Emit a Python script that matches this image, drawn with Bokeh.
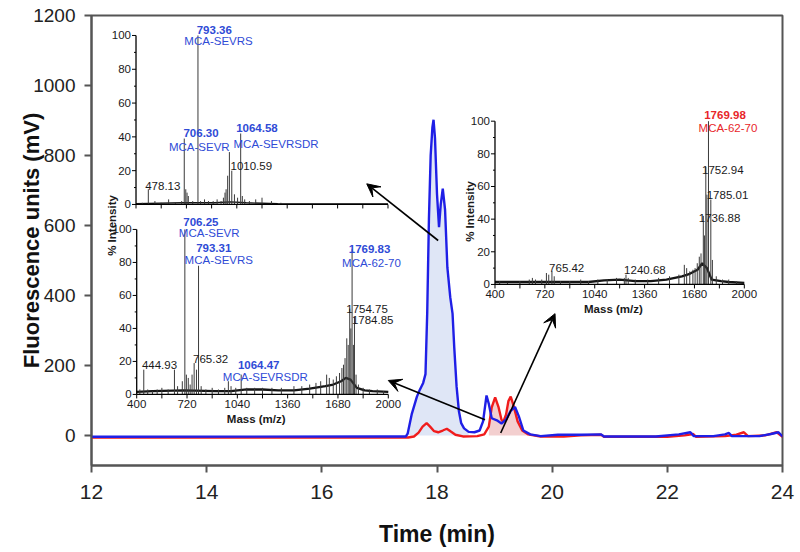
import numpy as np
from bokeh.plotting import figure
from bokeh.models import Range1d, Arrow, VeeHead, FixedTicker
from bokeh.core.properties import value
from bokeh.embed import file_html
from bokeh.resources import INLINE

FONT = "Liberation Sans"

# ---------------- chromatogram data ----------------
blue_t = [12.0, 17.0, 17.46, 17.49, 17.56, 17.65, 17.70, 17.76, 17.80, 17.83, 17.86, 17.89, 17.92, 17.94,
          17.965, 18.0, 18.035, 18.065, 18.10, 18.14, 18.18, 18.23, 18.27, 18.30, 18.34, 18.38, 18.42, 18.47,
          18.55, 18.65, 18.74, 18.80, 18.86, 18.90, 18.95, 19.04, 19.12, 19.2, 19.28, 19.355, 19.42, 19.50,
          19.62, 19.8, 20.1, 20.5, 20.85, 20.9, 21.8, 22.2, 22.4, 22.46, 22.8, 23.0, 23.07, 23.12, 23.6, 23.8,
          23.93, 24.0]
blue_mv = [-4, -3, -3, 5, 60, 110, 130, 150, 175, 350, 620, 800, 880, 902,
           850, 690, 595, 660, 705, 645, 480, 395, 348, 250, 140, 70, 35, 20,
           10, 9, 14, 40, 114, 90, 49, 43, 34, 45, 70, 81, 55, 14,
           3, -2, 2, 2, 3, -3, -3, 3, 9, -2, -2, 3, 7, -2, -2, 4,
           9, -3]
red_t = [12.0, 17.5, 17.6, 17.68, 17.75, 17.82, 17.88, 17.95, 18.02, 18.1, 18.17, 18.24, 18.32, 18.45, 18.7,
         18.82, 18.9, 18.95, 19.01, 19.07, 19.12, 19.15, 19.2, 19.24, 19.28, 19.33, 19.4, 19.48, 19.58, 19.8,
         20.2, 20.5, 20.85, 20.9, 22.0, 22.3, 22.45, 22.5, 23.0, 23.2, 23.33, 23.4, 23.7, 23.9, 24.0]
red_mv = [-6, -6, -3, 8, 25, 35, 25, 12, 9, 14, 19, 11, 2, -3, -2,
          3, 25, 80, 109, 80, 45, 38, 60, 98, 111, 85, 40, 14, 3, -3,
          -3, 0, 2, -4, -4, 0, 4, -4, -2, 2, 9, -2, 0, 9, -4]
BLUE_FILL = (17.46, 18.55)
RED_FILL = (18.85, 19.58)

x_ticks = [12, 14, 16, 18, 20, 22, 24]
y_ticks = [0, 200, 400, 600, 800, 1000, 1200]

# ---------------- mass spectra data ----------------
ms1_mz = [440, 478.13, 520, 560, 607, 650, 690, 706.30, 716, 724, 732, 760, 793.36, 810, 835, 860, 890, 915,
          940, 955, 965, 972, 982, 993, 1008, 1025, 1045, 1064.58, 1075, 1090, 1120, 1160, 1200, 1260, 1320]
ms1_int = [1, 9, 2, 1, 3, 1, 2, 39, 9, 7, 5, 2, 100, 2, 3, 2, 2, 3,
           2, 4, 7, 9, 17, 31, 20, 6, 4, 42, 5, 3, 2, 3, 4, 2, 1]
ms1_base_mz = [400, 700, 900, 1000, 1100, 1300, 1500, 2000]
ms1_base_int = [0.5, 1, 1, 1.5, 1, 0.5, 0.3, 0.3]

ms2_mz = [420, 444.93, 470, 500, 530, 560, 600, 640, 660, 690, 706.25, 716, 728, 740, 752, 765.32, 780, 793.31,
          810, 840, 880, 920, 960, 983, 1000, 1030, 1064.47, 1100, 1150, 1200, 1260, 1320, 1400, 1450, 1500,
          1540, 1570, 1608, 1625, 1650, 1670, 1690, 1705, 1715, 1725, 1736, 1745, 1754.75, 1762, 1769.83,
          1778, 1784.85, 1795, 1810, 1840, 1880, 1930, 1970]
ms2_int = [3, 15, 3, 2, 3, 4, 3, 15, 5, 8, 100, 12, 10, 6, 12, 19, 15, 78,
           5, 3, 4, 3, 4, 8, 5, 4, 12, 4, 4, 4, 4, 4, 5, 5, 6,
           7, 8, 12, 10, 9, 11, 13, 16, 18, 22, 34, 30, 52, 40, 88,
           30, 47, 12, 6, 4, 3, 3, 2]
ms2_base_mz = [400, 500, 700, 900, 1000, 1100, 1200, 1300, 1400, 1500, 1600, 1650, 1700, 1730, 1760, 1800,
               1850, 1900, 2000]
ms2_base_int = [1.5, 2, 2.5, 2, 2, 3, 3, 2.5, 2.5, 3.5, 5, 6, 8, 10, 9, 4, 2.5, 2, 1.5]

ms3_mz = [430, 480, 560, 620, 640, 660, 700, 730, 745, 765.42, 780, 820, 880, 950, 1000, 1060, 1120, 1180,
          1230, 1240.68, 1255, 1300, 1380, 1450, 1520, 1580, 1615, 1630, 1650, 1670, 1684, 1698, 1711, 1722,
          1736.88, 1744, 1752.94, 1760, 1769.98, 1785.01, 1795, 1820, 1860, 1900, 1950]
ms3_int = [2, 1, 2, 3, 4, 3, 3, 7, 6, 8, 5, 2, 2, 3, 2, 3, 3, 4,
           4, 6, 4, 3, 3, 4, 5, 6, 12, 10, 8, 9, 10, 13, 17, 19,
           42, 30, 72, 55, 100, 52, 15, 5, 3, 3, 2]
ms3_base_mz = [400, 600, 800, 1000, 1100, 1200, 1300, 1400, 1500, 1600, 1650, 1700, 1730, 1760, 1790, 1850,
               1900, 2000]
ms3_base_int = [1.5, 1.5, 1.5, 1.5, 2.5, 3, 2, 2, 3, 5, 6.5, 9, 13, 10, 3, 2, 1.5, 1]

mz_ticks = [400, 560, 720, 880, 1040, 1200, 1360, 1520, 1680, 1840, 2000]
mz_labels = [400, 720, 1040, 1360, 1680, 2000]
int_major = [0, 20, 40, 60, 80, 100]
int_minor = [10, 30, 50, 70, 90]

BLUE_T = "#2f4bd6"
RED_T = "#e8262a"
BLACK_T = "#1a1a1a"

# (text, m/z, % level, bold, colour)
ms1_labels = [("793.36", 897, 103, True, BLUE_T), ("MCA-SEVRS", 924, 97, False, BLUE_T),
              ("706.30", 813, 42, True, BLUE_T), ("MCA-SEVR", 802, 34, False, BLUE_T),
              ("1064.58", 1168, 45, True, BLUE_T), ("MCA-SEVRSDR", 1289, 36, False, BLUE_T),
              ("1010.59", 1132, 23, False, BLACK_T), ("478.13", 570, 11, False, BLACK_T)]
ms2_labels = [("706.25", 808, 104.7, True, BLUE_T), ("MCA-SEVR", 861, 97.6, False, BLUE_T),
              ("793.31", 890, 88.9, True, BLUE_T), ("MCA-SEVRS", 922, 81.4, False, BLUE_T),
              ("1769.83", 1881, 87.9, True, BLUE_T), ("MCA-62-70", 1893, 79.8, False, BLUE_T),
              ("1754.75", 1865, 52, False, BLACK_T), ("1784.85", 1901, 45.3, False, BLACK_T),
              ("444.93", 545, 17.6, False, BLACK_T), ("765.32", 870, 21.7, False, BLACK_T),
              ("1064.47", 1176, 18, True, BLUE_T), ("MCA-SEVRSDR", 1218, 10.5, False, BLUE_T)]
ms3_labels = [("1769.98", 1876, 103.9, True, RED_T), ("MCA-62-70", 1895, 95.9, False, RED_T),
              ("1752.94", 1862, 70.4, False, BLACK_T), ("1785.01", 1892, 54.5, False, BLACK_T),
              ("1736.88", 1841, 40.6, False, BLACK_T), ("765.42", 860, 10.2, False, BLACK_T),
              ("1240.68", 1362, 9, False, BLACK_T)]

# inset placement in chromatogram coordinates: ((t0, t1), (mV at 0 %, mV at 100 %))
INSET1 = ((12.773, 17.149), (660.0, 1142.9))
INSET2 = ((12.785, 17.154), (117.1, 588.6))
INSET3 = ((19.007, 23.337), (431.4, 898.0))

# arrows (t_start, mV_start, t_end, mV_end)
ARROWS = [(18.02, 557, 16.78, 719), (18.834, 45, 17.154, 157), (19.106, 7, 20.05, 348)]

# ---------------- figure ----------------
p = figure(width=798, height=550, x_range=Range1d(12, 24), y_range=Range1d(-86, 1200),
           output_backend="svg", toolbar_location=None,
           min_border_left=91, min_border_right=16, min_border_top=15, min_border_bottom=85)
p.xgrid.visible = False
p.ygrid.visible = False
p.outline_line_color = "#555555"
p.outline_line_width = 2
p.background_fill_color = "white"
p.border_fill_color = "white"

p.xaxis.ticker = FixedTicker(ticks=x_ticks)
p.yaxis.ticker = FixedTicker(ticks=y_ticks)
for ax in (p.xaxis, p.yaxis):
    ax.axis_line_color = "#555555"
    ax.axis_line_width = 2
    ax.major_tick_line_color = "#555555"
    ax.major_tick_line_width = 2
    ax.major_tick_out = 7
    ax.major_tick_in = 0
    ax.minor_tick_out = 0
    ax.minor_tick_in = 0
    ax.major_label_text_font = FONT
    ax.major_label_text_color = "#222222"
    ax.axis_label_text_font = FONT
    ax.axis_label_text_font_style = "bold"
    ax.axis_label_text_color = "#111111"
p.xaxis.major_label_text_font_size = "21px"
p.yaxis.major_label_text_font_size = "19px"
p.xaxis.major_label_standoff = 12
p.yaxis.major_label_standoff = 9
p.xaxis.axis_label = "Time (min)"
p.yaxis.axis_label = "Fluorescence units (mV)"
p.xaxis.axis_label_text_font_size = "23px"
p.yaxis.axis_label_text_font_size = "22px"
p.xaxis.axis_label_standoff = 19
p.yaxis.axis_label_standoff = -14

bt = np.array(blue_t); bv = np.array(blue_mv)
rt = np.array(red_t); rv = np.array(red_mv)
mb = (bt >= BLUE_FILL[0]) & (bt <= BLUE_FILL[1])
mr = (rt >= RED_FILL[0]) & (rt <= RED_FILL[1])
p.varea(x=bt[mb], y1=0, y2=bv[mb], fill_color="#dfe6f6")
p.varea(x=rt[mr], y1=0, y2=rv[mr], fill_color="#f3cfcf")
p.line(rt, rv, line_color="#f01c1c", line_width=2.4)
p.line(bt, bv, line_color="#1f1fe6", line_width=2.4)


def inset(box, mz, inten, base_mz, base_int, labels, show_x, base_width):
    (t0, t1), (v0, v1) = box
    sub = p.subplot(x_source=Range1d(400, 2000), y_source=Range1d(0, 100),
                    x_target=Range1d(t0, t1), y_target=Range1d(v0, v1))
    sub.line(base_mz, base_int, line_color="#151515", line_width=base_width)
    sub.segment(x0=mz, y0=[0] * len(mz), x1=mz, y1=inten, line_color="#3a3a3a", line_width=1)
    sub.segment(x0=[400, 400], y0=[0, 0], x1=[2000, 400], y1=[0, 100], line_color="black", line_width=1.3)
    sub.ray(x=[400] * len(int_major), y=int_major, length=4, length_units="screen", angle=np.pi,
            line_color="black", line_width=1)
    sub.ray(x=[400] * len(int_minor), y=int_minor, length=2, length_units="screen", angle=np.pi,
            line_color="black", line_width=1)
    sub.ray(x=mz_ticks, y=[0] * len(mz_ticks), length=4, length_units="screen", angle=-np.pi / 2,
            line_color="black", line_width=1)
    sub.text(x=[400] * len(int_major), y=int_major, text=[str(v) for v in int_major],
             text_align="right", text_baseline="middle", x_offset=-5,
             text_font=value(FONT), text_font_size="11.5px", text_color=BLACK_T)
    if show_x:
        sub.text(x=mz_labels, y=[0] * len(mz_labels), text=[str(v) for v in mz_labels],
                 text_align="center", text_baseline="middle", y_offset=10,
                 text_font=value(FONT), text_font_size="11.5px", text_color=BLACK_T)
        sub.text(x=[1160], y=[0], text=["Mass (m/z)"], text_align="center", text_baseline="middle",
                 y_offset=25, text_font=value(FONT), text_font_size="11.5px", text_font_style="bold",
                 text_color=BLACK_T)
    for txt, x, y, bold, col in labels:
        sub.text(x=[x], y=[y], text=[txt], text_align="center", text_baseline="middle",
                 text_font=value(FONT), text_font_size="11.5px",
                 text_font_style="bold" if bold else "normal", text_color=col)


inset(INSET1, ms1_mz, ms1_int, ms1_base_mz, ms1_base_int, ms1_labels, False, 1.3)
inset(INSET2, ms2_mz, ms2_int, ms2_base_mz, ms2_base_int, ms2_labels, True, 2.3)
inset(INSET3, ms3_mz, ms3_int, ms3_base_mz, ms3_base_int, ms3_labels, True, 2.3)

# "% Intensity" titles (shared one for the two left insets)
p.text(x=[12.351, 18.573], y=[600, 640], text=["% Intensity", "% Intensity"], angle=np.pi / 2,
       text_align="center", text_baseline="middle", text_font=value(FONT), text_font_size="11.5px",
       text_font_style="bold", text_color=BLACK_T)

for xs, ys, xe, ye in ARROWS:
    p.add_layout(Arrow(end=VeeHead(size=13, fill_color="black", line_color="black"),
                       x_start=xs, y_start=ys, x_end=xe, y_end=ye,
                       line_color="black", line_width=1.6))

open("out.html", "w").write(file_html(p, INLINE))
